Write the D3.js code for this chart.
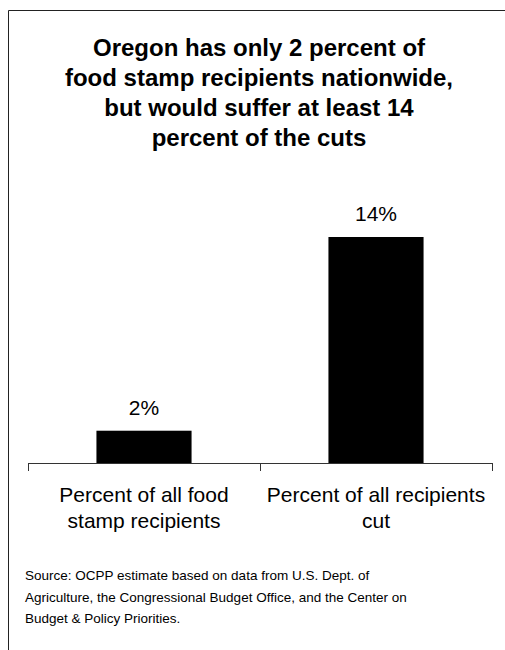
<!DOCTYPE html>
<html>
<head>
<meta charset="utf-8">
<script src="https://cdn.jsdelivr.net/npm/d3@7"></script>
<style>
  html, body { margin: 0; padding: 0; background: #fff; }
  svg { display: block; font-family: "Liberation Sans", Arial, sans-serif; }
</style>
</head>
<body>
<div id="chart"></div>
<script>
// chart data
var categories = ["Percent of all food stamp recipients", "Percent of all recipients cut"];
var categoryLines = [["Percent of all food", "stamp recipients"], ["Percent of all recipients", "cut"]];
var values = [2, 14];
var valueLabels = ["2%", "14%"];
var titleLines = [
  "Oregon has only 2 percent of",
  "food stamp recipients nationwide,",
  "but would suffer at least 14",
  "percent of the cuts"
];
var sourceLines = [
  "Source: OCPP estimate based on data from U.S. Dept. of",
  "Agriculture, the Congressional Budget Office, and the Center on",
  "Budget & Policy Priorities."
];

var width = 505, height = 650;
var axisY = 463; // baseline of plot

var svg = d3.select("#chart").append("svg")
    .attr("width", width)
    .attr("height", height);

// frame (top + left edges only)
svg.append("line")
    .attr("x1", 8.5).attr("y1", 10.5).attr("x2", width).attr("y2", 10.5)
    .attr("stroke", "#222").attr("stroke-width", 1);
svg.append("line")
    .attr("x1", 8.5).attr("y1", 10.5).attr("x2", 8.5).attr("y2", height)
    .attr("stroke", "#222").attr("stroke-width", 1);

// title
svg.append("g").selectAll("text")
    .data(titleLines)
    .enter().append("text")
    .attr("x", 259)
    .attr("y", function(d, i){ return 56 + i * 30; })
    .attr("text-anchor", "middle")
    .attr("font-size", 24)
    .attr("font-weight", "bold")
    .attr("fill", "#000")
    .text(function(d){ return d; });

// scales
var x = d3.scaleBand()
    .domain(categories)
    .range([28, 492])
    .paddingInner(0)
    .paddingOuter(0);

var y = d3.scaleLinear()
    .domain([0, 14])
    .range([axisY, 237]);

var barW = x.bandwidth() * 0.41;

// bars
svg.append("g").selectAll("rect")
    .data(values)
    .enter().append("rect")
    .attr("x", function(d, i){ return x(categories[i]) + x.bandwidth() / 2 - barW / 2; })
    .attr("y", function(d){ return y(d); })
    .attr("width", barW)
    .attr("height", function(d){ return axisY - y(d); })
    .attr("fill", "#000");

// value labels
svg.append("g").selectAll("text")
    .data(values)
    .enter().append("text")
    .attr("x", function(d, i){ return x(categories[i]) + x.bandwidth() / 2; })
    .attr("y", function(d){ return y(d) - 16; })
    .attr("text-anchor", "middle")
    .attr("font-size", 21)
    .attr("fill", "#000")
    .text(function(d, i){ return valueLabels[i]; });

// axis line + ticks at band edges
var axis = svg.append("g").attr("stroke", "#333").attr("stroke-width", 1);
axis.append("line")
    .attr("x1", x.range()[0]).attr("x2", x.range()[1])
    .attr("y1", axisY + 0.5).attr("y2", axisY + 0.5);
var tickXs = categories.map(function(c){ return x(c); }).concat([x.range()[1]]);
axis.selectAll(".tick")
    .data(tickXs)
    .enter().append("line")
    .attr("x1", function(d){ return Math.round(d) + 0.5; })
    .attr("x2", function(d){ return Math.round(d) + 0.5; })
    .attr("y1", axisY).attr("y2", axisY + 8);

// category labels
var cat = svg.append("g").selectAll("text")
    .data(categoryLines)
    .enter().append("text")
    .attr("text-anchor", "middle")
    .attr("font-size", 21)
    .attr("fill", "#000");
cat.selectAll("tspan")
    .data(function(d, i){ return d.map(function(t){ return {t: t, i: i}; }); })
    .enter().append("tspan")
    .attr("x", function(d){ return x(categories[d.i]) + x.bandwidth() / 2; })
    .attr("y", function(d, j){ return 502 + j * 26; })
    .text(function(d){ return d.t; });

// source note
svg.append("g").selectAll("text")
    .data(sourceLines)
    .enter().append("text")
    .attr("x", 25)
    .attr("y", function(d, i){ return 580 + i * 21.5; })
    .attr("font-size", 13.5)
    .attr("fill", "#000")
    .text(function(d){ return d; });
</script>
</body>
</html>
